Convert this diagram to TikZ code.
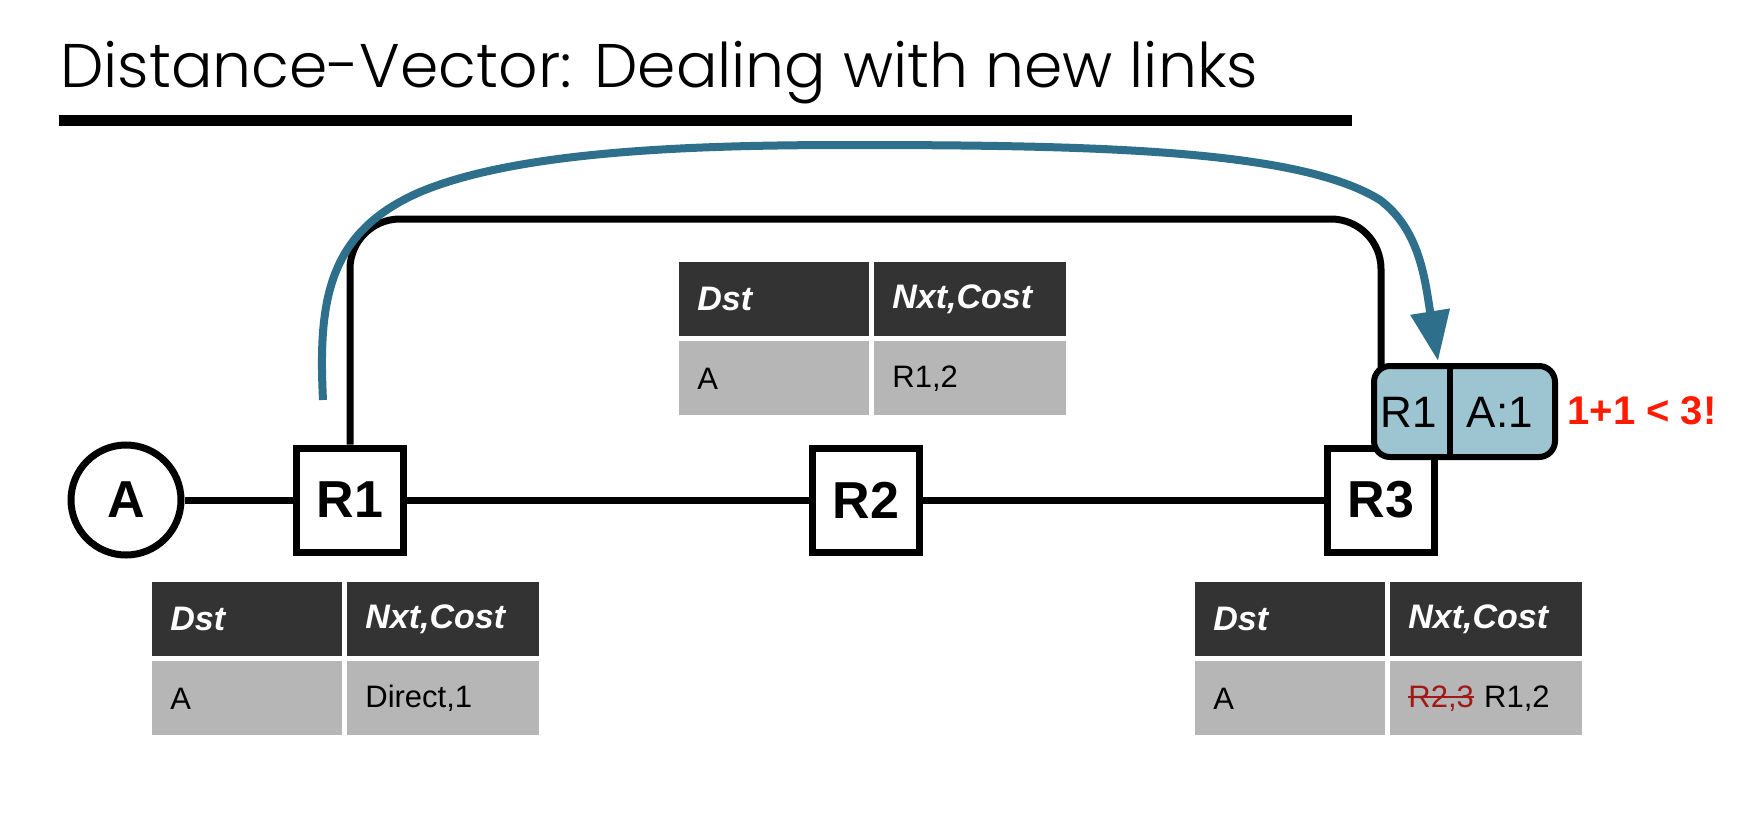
\documentclass[tikz,border=0pt]{standalone}
\usepackage{fontspec}
\setmainfont{Liberation Sans}
\newfontfamily\titlefont{Poppins Light}
\usetikzlibrary{arrows.meta,calc}
\definecolor{hdr}{HTML}{333333}
\definecolor{rowc}{HTML}{B6B6B6}
\definecolor{arrowblue}{HTML}{2E6F8B}
\definecolor{boxblue}{HTML}{9DC4D1}
\definecolor{alertred}{HTML}{FF1A00}
\definecolor{strikered}{HTML}{A01818}
\newsavebox\strkbox
\newcommand\strikeit[1]{\sbox\strkbox{#1}\rlap{\usebox\strkbox}\rule[0.3em]{\wd\strkbox}{1.2pt}}
\newcommand\dvtable[5]{%
  \node[hcell,cA] (#1h1) at (#2,#3) {Dst};
  \node[hcell,cB] (#1h2) at (#2+195,#3) {Nxt,Cost};
  \node[rcell,cA] (#1r1) at (#2,#3+79) {#4};
  \node[rcell,cB] (#1r2) at (#2+195,#3+79) {#5};}
\begin{document}
\begin{tikzpicture}[x=0.5pt,y=-0.5pt,
  router/.style={draw, line width=3.5pt, minimum width=53.5pt, minimum height=52pt, inner sep=0pt,
    font=\bfseries\fontsize{26}{26}\selectfont},
  host/.style={draw, circle, line width=3.5pt, minimum size=55pt, inner sep=0pt,
    font=\bfseries\fontsize{26}{26}\selectfont},
  link/.style={line width=3.5pt},
  hcell/.style={anchor=north west, fill=hdr, text=white, font=\bfseries\itshape\fontsize{17}{17}\selectfont,
    minimum height=37pt, inner xsep=9pt, inner ysep=0pt, align=left},
  rcell/.style={anchor=north west, fill=rowc, font=\fontsize{15.5}{16}\selectfont,
    minimum height=37pt, inner xsep=9pt, inner ysep=0pt, align=left},
  cA/.style={text width=77pt},
  cB/.style={text width=78pt}]
\fill[white] (0,0) rectangle (1745,820);
\useasboundingbox (0,0) rectangle (1745,820);

% title
\node[anchor=base west, inner sep=0pt, font=\titlefont\fontsize{30.8}{31}\selectfont] (title) at (60,87)
  {Distance-Vector: Dealing with new links};
\coordinate (ul1) at (59,120);
\coordinate (ul2) at (1352,120);
\draw[line width=5.5pt] (ul1) -- (ul2);

% network
\node[host] (a) at (126,500) {A};
\node[router] (r1) at (350,500) {R1};
\node[router] (r2) at (866,500) {R2};
\node[router] (r3) at (1381,500) {R3};
\draw[link] (a) -- (r1);
\draw[link] (r1) -- (r2);
\draw[link] (r2) -- (r3);
\coordinate (topy) at (0,219);
\draw[link, rounded corners=25pt] (r1.north) -- (r1.north |- topy) -- (r3.north |- topy) -- (r3.north);

% blue arrow
\coordinate (bstart) at (323,400);
\coordinate (btip) at (1438,361);
\draw[arrowblue, line width=4pt, -{Triangle[length=25pt,width=19pt]}]
  (bstart) .. controls (318,300) and (328,232) .. (420,192)
  .. controls (520,150) and (700,145) .. (850,145)
  .. controls (1100,145) and (1300,150) .. (1380,200)
  .. controls (1420,230) and (1425,280) .. (btip);

% update message box
\node[draw, line width=3pt, fill=boxblue, rounded corners=8pt, minimum width=90.5pt,
  minimum height=45.5pt, inner sep=0pt] (bbox) at (1464.5,411.5) {};
\draw[line width=3pt] ($(bbox.north west)!0.42!(bbox.north east)$) -- ($(bbox.south west)!0.42!(bbox.south east)$);
\node[font=\fontsize{22}{22}\selectfont, inner sep=0pt] (bR1) at (1409,412) {R1};
\node[font=\fontsize{22}{22}\selectfont, inner sep=0pt] (bA1) at (1500,412) {A:1};
\node[font=\bfseries\fontsize{20}{20}\selectfont, text=alertred, anchor=west, inner sep=0pt] (note) at (1567,411) {1+1 < 3!};

% tables
\dvtable{tm}{679}{262}{A}{R1,2}
\dvtable{tl}{152}{582}{A}{Direct,1}
\dvtable{tr}{1195}{582}{A}{{\color{strikered}\strikeit{R2,3}} R1,2}
\end{tikzpicture}
\end{document}
